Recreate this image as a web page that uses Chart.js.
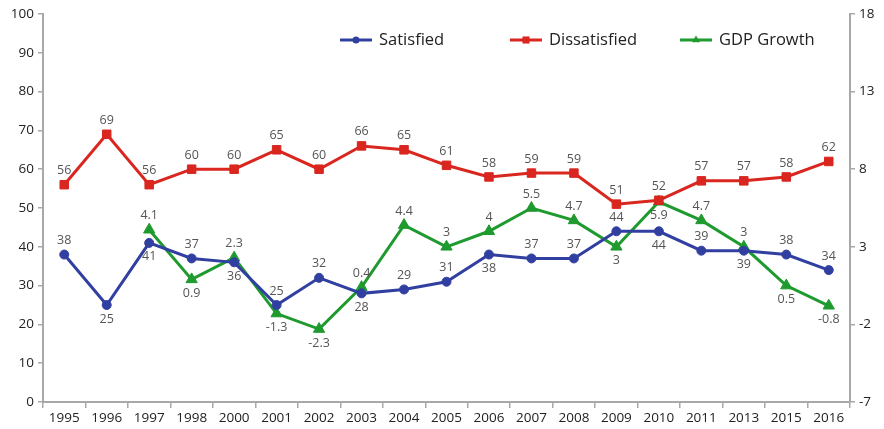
<!DOCTYPE html>
<html>
<head>
<meta charset="utf-8">
<script src="https://cdn.jsdelivr.net/npm/chart.js@4.4.0/dist/chart.umd.min.js"></script>
<style>
  html, body { margin: 0; padding: 0; background: #fff; }
  #wrap { width: 884px; height: 429px; }
</style>
</head>
<body>
<div id="wrap"><canvas id="grafico" width="884" height="429"></canvas></div>
<script>
// anos da pesquisa (sem 1999, 2012, 2014)
const years = ["1995", "1996", "1997", "1998", "2000", "2001", "2002", "2003", "2004", "2005",
  "2006", "2007", "2008", "2009", "2010", "2011", "2013", "2015", "2016"];
const satisfied = [38, 25, 41, 37, 36, 25, 32, 28, 29, 31, 38, 37, 37, 44, 44, 39, 39, 38, 34];
const dissatisfied = [56, 69, 56, 60, 60, 65, 60, 66, 65, 61, 58, 59, 59, 51, 52, 57, 57, 58, 62];
const gdpGrowth = [null, null, 4.1, 0.9, 2.3, -1.3, -2.3, 0.4, 4.4, 3, 4, 5.5, 4.7, 3, 5.9, 4.7, 3, 0.5, -0.8];
const leftTicks = [0, 10, 20, 30, 40, 50, 60, 70, 80, 90, 100];
const rightTicks = [-7, -2, 3, 8, 13, 18];

const FONT = "'Open Sans', 'DejaVu Sans', sans-serif";
const AXIS_COLOR = "#a8a8a8";

// rótulos de valor em cima/embaixo de cada ponto
const valueLabels = {
  id: "valueLabels",
  afterDatasetsDraw(chart) {
    const ctx = chart.ctx;
    ctx.save();
    ctx.font = "12.5px " + FONT;
    ctx.fillStyle = "#555";
    ctx.textAlign = "center";
    ctx.textBaseline = "middle";
    chart.data.datasets.forEach((ds, i) => {
      const meta = chart.getDatasetMeta(i);
      meta.data.forEach((pt, j) => {
        const v = ds.data[j];
        if (v === null || v === undefined) return;
        const below = ds.labelsBelow.includes(j);
        ctx.fillText(String(v), pt.x, pt.y + (below ? 14 : -14));
      });
    });
    ctx.restore();
  }
};

// legenda desenhada à mão: linha com o marcador no meio
const lineLegend = {
  id: "lineLegend",
  afterDraw(chart) {
    const ctx = chart.ctx;
    const area = chart.chartArea;
    const col = 170;
    const n = chart.data.datasets.length;
    const y = 40;
    ctx.save();
    ctx.font = "16.5px " + FONT;
    ctx.textBaseline = "middle";
    ctx.textAlign = "left";
    chart.data.datasets.forEach((ds, i) => {
      const x0 = area.right - col * (n - i);
      ctx.strokeStyle = ds.borderColor;
      ctx.lineWidth = 3;
      ctx.beginPath();
      ctx.moveTo(x0, y);
      ctx.lineTo(x0 + 32, y);
      ctx.stroke();
      ctx.fillStyle = ds.borderColor;
      Chart.helpers.drawPoint(ctx, {
        pointStyle: ds.pointStyle,
        radius: ds.legendRadius,
        borderWidth: 0,
        rotation: 0
      }, x0 + 16, y);
      ctx.fillStyle = "#222";
      ctx.fillText(ds.label, x0 + 39, y);
    });
    ctx.restore();
  }
};

function generateChart() {
  const datasets = [
    {
      label: "Satisfied",
      data: satisfied,
      yAxisID: "y",
      borderColor: "#3140a0",
      backgroundColor: "#3140a0",
      borderWidth: 3,
      pointStyle: "circle",
      pointRadius: 4.5,
      pointBorderWidth: 1,
      legendRadius: 3.5,
      labelsBelow: [1, 2, 4, 7, 10, 14, 16],
    },
    {
      label: "Dissatisfied",
      data: dissatisfied,
      yAxisID: "y",
      borderColor: "#d9261f",
      backgroundColor: "#d9261f",
      borderWidth: 3,
      pointStyle: "rect",
      pointRadius: 6,
      pointBorderWidth: 1,
      legendRadius: 5,
      labelsBelow: [],
    },
    {
      label: "GDP Growth",
      data: gdpGrowth,
      yAxisID: "y1",
      borderColor: "#1f9a2e",
      backgroundColor: "#1f9a2e",
      borderWidth: 3,
      pointStyle: "triangle",
      pointRadius: 6.5,
      pointBorderWidth: 1,
      legendRadius: 4.5,
      labelsBelow: [3, 5, 6, 13, 14, 17, 18],
    },
  ];

  const tickFont = { family: FONT, size: 13.5 };

  const config = {
    responsive: false,
    animation: false,
    events: [],
    layout: { padding: { top: 14, left: 0, right: 0, bottom: 0 } },
    scales: {
      x: {
        offset: true,
        grid: { display: true, drawOnChartArea: false, offset: true, tickLength: 6, color: AXIS_COLOR, lineWidth: 1.5 },
        border: { color: AXIS_COLOR, width: 2 },
        ticks: { color: "#222", font: tickFont, padding: 2, maxRotation: 0, autoSkip: false },
        afterFit(scale) { scale.height = 27; },
      },
      y: {
        position: "left",
        min: leftTicks[0],
        max: leftTicks[leftTicks.length - 1],
        ticks: { stepSize: 10, color: "#222", font: tickFont, padding: 4 },
        grid: { drawOnChartArea: false, tickLength: 5, color: AXIS_COLOR, lineWidth: 1.5 },
        border: { color: AXIS_COLOR, width: 2 },
        afterFit(scale) { scale.width = 43; },
      },
      y1: {
        position: "right",
        min: rightTicks[0],
        max: rightTicks[rightTicks.length - 1],
        afterBuildTicks(scale) { scale.ticks = rightTicks.map(v => ({ value: v })); },
        ticks: { color: "#222", font: tickFont, padding: 4 },
        grid: { drawOnChartArea: false, tickLength: 5, color: AXIS_COLOR, lineWidth: 1.5 },
        border: { color: AXIS_COLOR, width: 2 },
        afterFit(scale) { scale.width = 34; },
      },
    },
    plugins: {
      legend: { display: false },
      tooltip: { enabled: false },
    },
  };

  const ctx = document.getElementById("grafico").getContext("2d");
  new Chart(ctx, {
    type: "line",
    plugins: [valueLabels, lineLegend],
    data: { labels: years, datasets },
    options: config,
  });
}

generateChart();
</script>
</body>
</html>
